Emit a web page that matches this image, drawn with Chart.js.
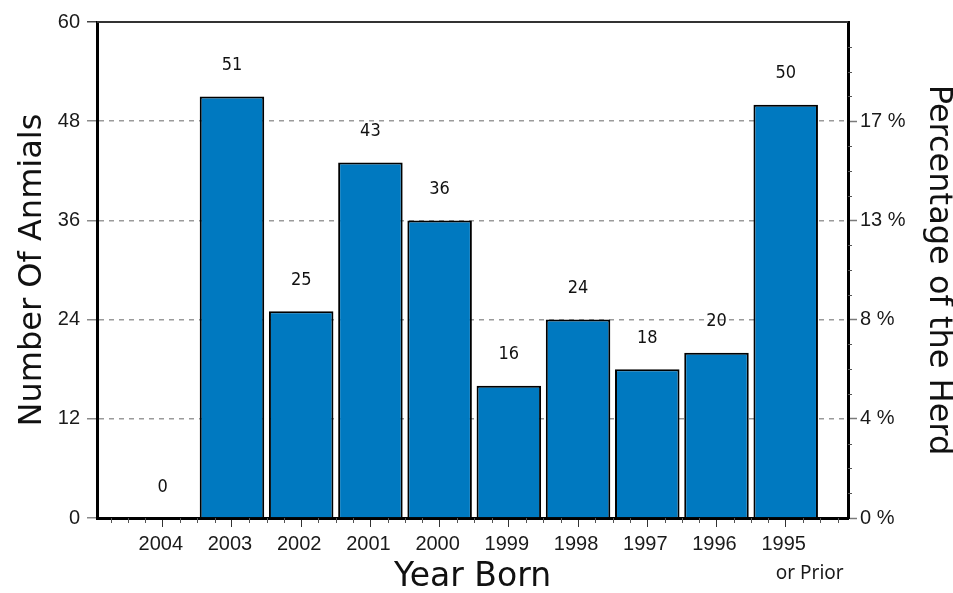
<!DOCTYPE html>
<html><head><meta charset="utf-8">
<script src="https://cdn.jsdelivr.net/npm/chart.js@4.4.1/dist/chart.umd.min.js"></script>
<style>html,body{margin:0;padding:0;background:#fff;}#wrap{width:953px;height:593px;}</style>
</head><body><div id="wrap"><canvas id="c" width="953" height="593"></canvas></div>
<script>
const years = ['2004','2003','2002','2001','2000','1999','1998','1997','1996','1995'];
const counts = [0,51,25,43,36,16,24,18,20,50];
const leftTicks = [0,12,24,36,48,60];
const rightTickLabels = ['0 %','4 %','8 %','13 %','17 %',''];
const lastNote = 'or Prior';
const yTitle = 'Number Of Anmials';
const y2Title = 'Percentage of the Herd';
const xTitle = 'Year Born';

Chart.defaults.font.family = "'Liberation Sans', Arial, sans-serif";
Chart.defaults.color = '#1a1a1a';

const extras = {
  id: 'extras',
  afterDatasetsDraw(chart) {
    const {ctx} = chart;
    const meta = chart.getDatasetMeta(0);
    ctx.save();
    ctx.font = "18px 'DejaVu Sans Condensed', 'DejaVu Sans', sans-serif";
    ctx.fillStyle = '#111';
    ctx.textAlign = 'center';
    ctx.textBaseline = 'middle';
    meta.data.forEach((bar, i) => {
      ctx.fillText(String(counts[i]), bar.x, bar.y - 31);
    });
    ctx.restore();
  },
  afterDraw(chart) {
    const {ctx, chartArea: ca, scales} = chart;
    const x = scales.x, y2 = scales.y2;
    ctx.save();
    ctx.strokeStyle = '#333';
    ctx.lineWidth = 2;
    ctx.beginPath();
    ctx.moveTo(ca.left, ca.top);
    ctx.lineTo(ca.right, ca.top);
    ctx.stroke();
    ctx.strokeStyle = '#555';
    ctx.lineWidth = 1;
    ctx.beginPath();
    for (let v = Math.ceil(x.min * 4) / 4; v <= x.max + 1e-9; v += 0.25) {
      if (Math.abs(v - Math.round(v)) < 1e-6) continue;
      const px = Math.round(x.getPixelForValue(v)) + 0.5;
      ctx.moveTo(px, ca.bottom);
      ctx.lineTo(px, ca.bottom + 5);
    }
    for (let v = 3; v < y2.max; v += 3) {
      if (v % 12 === 0) continue;
      const py = Math.round(y2.getPixelForValue(v)) + 0.5;
      ctx.moveTo(ca.right, py);
      ctx.lineTo(ca.right + 4, py);
    }
    ctx.stroke();
    ctx.font = "19px 'Noto Sans', 'DejaVu Sans', sans-serif";
    ctx.fillStyle = '#1a1a1a';
    ctx.textAlign = 'center';
    ctx.textBaseline = 'alphabetic';
    ctx.fillText(lastNote, x.getPixelForValue(years.length - 1) + 24, 579);
    ctx.restore();
  }
};

new Chart(document.getElementById('c'), {
  type: 'bar',
  data: {
    datasets: [{
      data: counts.map((v, i) => ({x: i, y: v})),
      backgroundColor: '#0079c0',
      borderColor: '#000',
      borderWidth: 2,
      barPercentage: 0.932,
      categoryPercentage: 1
    }]
  },
  options: {
    responsive: false,
    animation: false,
    layout: {padding: {top: 22, left: 0, right: 0, bottom: 0}},
    plugins: {legend: {display: false}, tooltip: {enabled: false}},
    scales: {
      x: {
        type: 'linear',
        position: 'bottom',
        offset: false,
        min: -0.95,
        max: 9.9,
        afterBuildTicks: (s) => { s.ticks = years.map((_, i) => ({value: i})); },
        afterFit: (s) => { s.height = 75; },
        ticks: {
          autoSkip: false, maxRotation: 0, padding: 5.5, labelOffset: -2,
          font: {size: 20}, color: '#1a1a1a',
          callback: (v) => years[v]
        },
        grid: {offset: false, drawOnChartArea: false, drawTicks: true, tickLength: 9, tickColor: '#333', tickWidth: 1},
        border: {display: true, width: 3, color: '#000'},
        title: {
          display: true, text: xTitle, color: '#111',
          font: {family: "'DejaVu Sans', sans-serif", size: 33, lineHeight: 0.9},
          padding: {top: 0, bottom: 1}
        }
      },
      y: {
        type: 'linear',
        position: 'left',
        min: 0, max: 60,
        afterBuildTicks: (s) => { s.ticks = leftTicks.map(v => ({value: v})); },
        afterFit: (s) => { s.width = 97; },
        ticks: {padding: 7, font: {size: 20}, color: '#1a1a1a', callback: (v) => String(v)},
        grid: {
          drawOnChartArea: true, drawTicks: true, tickLength: 10, lineWidth: 1.5,
          color: (c) => (c.tick && (c.tick.value === 0 || c.tick.value === 60)) ? 'rgba(0,0,0,0)' : '#9a9a9a',
          tickColor: (c) => (c.tick && c.tick.value === 60) ? '#444' : '#8a8a8a',
          tickWidth: 1.5
        },
        border: {display: true, width: 3, color: '#000', dash: [5, 5]},
        title: {
          display: true, text: yTitle, color: '#111',
          font: {family: "'DejaVu Sans', sans-serif", size: 32, lineHeight: 0.9},
          padding: {top: 18, bottom: 0}
        }
      },
      y2: {
        type: 'linear',
        position: 'right',
        min: 0, max: 60,
        afterBuildTicks: (s) => { s.ticks = leftTicks.map(v => ({value: v})); },
        afterFit: (s) => { s.width = 105; },
        ticks: {padding: 3, font: {size: 20}, color: '#1a1a1a',
          callback: (v, i) => rightTickLabels[i]},
        grid: {
          drawOnChartArea: false, drawTicks: true, tickLength: 9, tickWidth: 1.5,
          tickColor: (c) => (c.tick && c.tick.value === 60) ? 'rgba(0,0,0,0)' : '#7a7a7a'
        },
        border: {display: true, width: 3, color: '#000'},
        title: {
          display: true, text: y2Title, color: '#111',
          font: {family: "'DejaVu Sans', sans-serif", size: 32, lineHeight: 0.9},
          padding: {top: 0, bottom: 0}
        }
      }
    }
  },
  plugins: [extras]
});
</script>
</body></html>
